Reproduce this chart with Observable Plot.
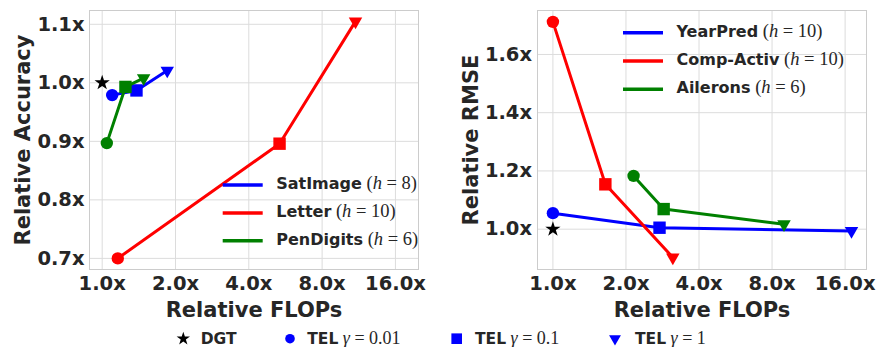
<!DOCTYPE html>
<html><head><meta charset="utf-8">
<script src="https://cdn.jsdelivr.net/npm/d3@7"></script>
<script src="https://cdn.jsdelivr.net/npm/@observablehq/plot@0.6"></script>
<style>
body{margin:0;background:#fff;}
#wrap{width:876px;height:347px;overflow:hidden;}
#charts{display:flex;}
svg{display:block;}
</style></head><body><div id="wrap"><div id="charts"></div><div id="legend"></div></div>
<script>
// ---- shared ----
const levelNames = ["γ = 0.01", "γ = 0.1", "γ = 1"];
const levelSymbols = ["circle", "square", "triangle"];
const xTicks = [1, 2, 4, 8, 16];

// ---- classification panel ----
const clsNames = ["SatImage", "Letter", "PenDigits"];
const clsH = [8, 10, 6];
const clsColors = ["#0000ff", "#ff0000", "#008000"];
const clsFlops = [[1.099, 1.383, 1.85], [1.159, 5.35, 10.97], [1.045, 1.246, 1.48]];
const clsAcc = [[0.979, 0.987, 1.021], [0.700, 0.896, 1.105], [0.897, 0.993, 1.008]];
const clsDGT = [1.0, 1.0];
const clsYTicks = [0.7, 0.8, 0.9, 1.0, 1.1];

// ---- regression panel ----
const regNames = ["YearPred", "Comp-Activ", "Ailerons"];
const regH = [10, 10, 6];
const regColors = ["#0000ff", "#ff0000", "#008000"];
const regFlops = [[1.0, 2.75, 17.0], [1.0, 1.645, 3.12], [2.15, 2.86, 8.96]];
const regRmse = [[1.055, 1.005, 0.994], [1.712, 1.154, 0.903], [1.183, 1.069, 1.017]];
const regDGT = [1.0, 1.0];
const regYTicks = [1.0, 1.2, 1.4, 1.6];

const TXT = "#262626";
const SANS = "DejaVu Sans";
const SERIF = "Liberation Serif";
const symR = {circle: 6.2, square: 7.0, triangle: 5.0, star: 4.8};

function legendMark(names, hs, colors, x0, y0, step) {
  return () => {
    const g = d3.create("svg:g").attr("text-anchor", "start");
    names.forEach((n, i) => {
      const y = y0 + i * step;
      g.append("line").attr("x1", x0).attr("x2", x0 + 40).attr("y1", y).attr("y2", y)
        .attr("stroke", colors[i]).attr("stroke-width", 3.5);
      const t = g.append("text").attr("x", x0 + 53.5).attr("y", y).attr("dy", "0.38em")
        .attr("fill", TXT).attr("text-anchor", "start");
      t.append("tspan").attr("font-family", SANS).attr("font-weight", "bold").attr("font-size", 16).text(n);
      t.append("tspan").attr("font-family", SERIF).attr("font-size", 18.5).text(" (");
      t.append("tspan").attr("font-family", SERIF).attr("font-size", 18.5).attr("font-style", "italic").text("h");
      t.append("tspan").attr("font-family", SERIF).attr("font-size", 18.5).text(" = " + hs[i] + ")");
    });
    return g.node();
  };
}

function panel(o) {
  const marks = [
    Plot.gridX(xTicks, {stroke: "#dcdcdc", strokeOpacity: 1}),
    Plot.gridY(o.yTicks, {stroke: "#dcdcdc", strokeOpacity: 1}),
    Plot.frame({stroke: "#cccccc"}),
    Plot.axisX(xTicks, {tickSize: 0, tickPadding: 7, tickFormat: d => d.toFixed(1) + "x",
      fontSize: 19.5, fontWeight: "bold", fill: TXT, fontFamily: SANS, label: null}),
    Plot.axisY(o.yTicks, {tickSize: 0, tickPadding: o.yPad, tickFormat: d => d.toFixed(1) + "x",
      fontSize: 19.5, fontWeight: "bold", fill: TXT, fontFamily: SANS, label: null}),
    Plot.text(["Relative FLOPs"], {frameAnchor: "bottom", dy: 32.5, lineAnchor: "top", text: d => d,
      fontSize: 21, fontWeight: "bold", fill: TXT, fontFamily: SANS}),
    Plot.text([o.yLabel], {frameAnchor: "left", rotate: -90, dx: o.yLabelDx, lineAnchor: "middle",
      textAnchor: "middle", text: d => d, fontSize: 21, fontWeight: "bold", fill: TXT, fontFamily: SANS})
  ];
  o.names.forEach((n, i) => {
    const rows = o.flops[i].map((f, j) => ({x: f, y: o.vals[i][j], level: j}));
    marks.push(Plot.line(rows, {x: "x", y: "y", stroke: o.colors[i], strokeWidth: 3}));
    levelSymbols.forEach((s, j) => {
      marks.push(Plot.dot(rows.filter(r => r.level === j), {x: "x", y: "y", symbol: s, r: symR[s],
        fill: o.colors[i], stroke: "none", rotate: s === "triangle" ? 180 : 0}));
    });
  });
  marks.push(Plot.dot([{x: o.dgt[0], y: o.dgt[1]}], {x: "x", y: "y", symbol: "star", r: symR.star, fill: "black"}));
  marks.push(legendMark(o.names, o.hs, o.colors, o.legX, o.legY, o.legStep));
  return Plot.plot({
    width: 438, height: 322,
    marginLeft: o.ml, marginRight: o.mr, marginTop: 10, marginBottom: 53,
    x: {type: "log", base: 2, domain: o.xDomain},
    y: {domain: o.yDomain},
    style: {fontFamily: SANS, color: TXT, background: "white", overflow: "visible"},
    marks
  });
}

const left = panel({
  names: clsNames, hs: clsH, colors: clsColors, flops: clsFlops, vals: clsAcc, dgt: clsDGT,
  yTicks: clsYTicks, yLabel: "Relative Accuracy", ml: 89, mr: 20, yPad: 5, yLabelDx: -66,
  xDomain: [0.887, 19.9], yDomain: [0.681, 1.1236], legX: 222.7, legY: 185, legStep: 27.9
});
const right = panel({
  names: regNames, hs: regH, colors: regColors, flops: regFlops, vals: regRmse, dgt: regDGT,
  yTicks: regYTicks, yLabel: "Relative RMSE", ml: 99, mr: 10, yPad: 5.5, yLabelDx: -66.5,
  xDomain: [0.864, 19.6], yDomain: [0.8615, 1.751], legX: 185, legY: 32.7, legStep: 28.3
});
document.getElementById("charts").append(left, right);

// ---- bottom legend ----
const legItems = [
  {sym: "star", color: "black", name: "DGT", math: null, sx: 183.3, tx: 200.7, r: 4.2},
  {sym: "circle", color: "#0000ff", name: "TEL", math: levelNames[0], sx: 290, tx: 307.3, r: 4.8},
  {sym: "square", color: "#0000ff", name: "TEL", math: levelNames[1], sx: 456.7, tx: 475, r: 6.0},
  {sym: "triangle", color: "#0000ff", name: "TEL", math: levelNames[2], sx: 615, tx: 635, r: 4.4}
];
const symMap = {star: d3.symbolStar, circle: d3.symbolCircle, square: d3.symbolSquare, triangle: d3.symbolTriangle};
const lsvg = d3.create("svg").attr("width", 876).attr("height", 25);
const ly = 16.7;
legItems.forEach(it => {
  lsvg.append("path").attr("d", d3.symbol(symMap[it.sym], it.r * it.r * Math.PI)())
    .attr("transform", `translate(${it.sx},${ly})` + (it.sym === "triangle" ? " rotate(180)" : ""))
    .attr("fill", it.color);
  const t = lsvg.append("text").attr("x", it.tx).attr("y", ly).attr("dy", "0.36em").attr("fill", TXT);
  t.append("tspan").attr("font-family", SANS).attr("font-weight", "bold").attr("font-size", 15.5).text(it.name);
  if (it.math) {
    const [g, rest] = [it.math.slice(0, 1), it.math.slice(1)];
    t.append("tspan").attr("font-family", SERIF).attr("font-size", 18).text(" ");
    t.append("tspan").attr("font-family", SERIF).attr("font-size", 18).attr("font-style", "italic").text(g);
    t.append("tspan").attr("font-family", SERIF).attr("font-size", 18).text(rest);
  }
});
document.getElementById("legend").append(lsvg.node());
</script>
</body></html>
